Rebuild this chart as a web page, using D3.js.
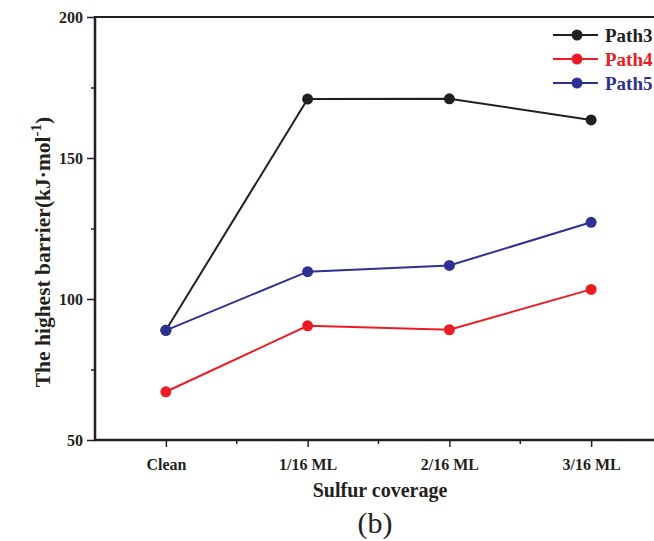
<!DOCTYPE html>
<html>
<head>
<meta charset="utf-8">
<script src="https://cdn.jsdelivr.net/npm/d3@7"></script>
<style>
  body { margin: 0; background: #fff; }
  svg { display: block; }
  text { font-family: "Liberation Serif", "Times New Roman", serif; }
</style>
</head>
<body>
<svg id="chart" width="654" height="541"></svg>
<script>
// Highest barrier (kJ/mol) vs. sulfur coverage
const categories = ["Clean", "1/16 ML", "2/16 ML", "3/16 ML"];
const path3 = [88.9, 170.9, 171.0, 163.5];
const path4 = [67.1, 90.5, 89.1, 103.4];
const path5 = [88.9, 109.7, 111.9, 127.2];
const seriesNames = ["Path3", "Path4", "Path5"];
const seriesColors = ["#231f20", "#ed1c24", "#2e3192"];
const yMajorTicks = [50, 100, 150, 200];
const yMinorTicks = [75, 125, 175];

const series = [path3, path4, path5].map((v, i) => ({ name: seriesNames[i], color: seriesColors[i], values: v }));

const svg = d3.select("#chart");
const plotLeft = 95, plotRight = 662, plotTop = 17, plotBottom = 440;
const ink = "#231f20";

const x = d3.scalePoint().domain(categories).range([plotLeft, plotRight]).padding(0.5);
const step = x.step();
const y = d3.scaleLinear().domain([50, 200]).range([plotBottom, plotTop]);

// frame: top border
svg.append("line").attr("x1", plotLeft).attr("x2", plotRight).attr("y1", plotTop).attr("y2", plotTop)
  .attr("stroke", ink).attr("stroke-width", 2);

// y axis
const yAxis = svg.append("g").attr("transform", `translate(${plotLeft},0)`)
  .call(d3.axisLeft(y).tickValues(yMajorTicks).tickSize(8).tickPadding(4));
yAxis.select(".domain").remove();
svg.append("g").attr("transform", `translate(${plotLeft},0)`)
  .call(d3.axisLeft(y).tickValues(yMinorTicks).tickSize(4).tickFormat(""))
  .select(".domain").remove();
svg.append("line").attr("x1", plotLeft).attr("x2", plotLeft).attr("y1", plotTop - 1).attr("y2", plotBottom + 1)
  .attr("stroke", ink).attr("stroke-width", 2.5);

// x axis
const xAxis = svg.append("g").attr("transform", `translate(0,${plotBottom})`)
  .call(d3.axisBottom(x).tickSize(7).tickPadding(12));
xAxis.select(".domain").remove();
const xMinor = categories.map(c => x(c) + step / 2);
svg.append("g").attr("transform", `translate(0,${plotBottom})`)
  .selectAll("line").data(xMinor).join("line")
  .attr("x1", d => d).attr("x2", d => d).attr("y1", 0).attr("y2", 4)
  .attr("stroke", ink).attr("stroke-width", 1.5);
svg.append("line").attr("x1", plotLeft - 1).attr("x2", plotRight).attr("y1", plotBottom).attr("y2", plotBottom)
  .attr("stroke", ink).attr("stroke-width", 2.5);

svg.selectAll(".tick line").attr("stroke", ink).attr("stroke-width", 1.5);
svg.selectAll(".tick text").attr("fill", ink)
  .style("font-family", "'Liberation Serif', serif").style("font-size", "16px").style("font-weight", "bold");

// series lines and markers
const line = d3.line().x((d, i) => x(categories[i])).y(d => y(d));
series.forEach(s => {
  svg.append("path").datum(s.values).attr("d", line)
    .attr("fill", "none").attr("stroke", s.color).attr("stroke-width", 2);
});
series.forEach(s => {
  svg.append("g").selectAll("circle").data(s.values).join("circle")
    .attr("cx", (d, i) => x(categories[i])).attr("cy", d => y(d)).attr("r", 5.5)
    .attr("fill", s.color);
});

// legend
const legend = svg.append("g");
series.forEach((s, i) => {
  const ly = 35 + i * 24;
  legend.append("line").attr("x1", 553).attr("x2", 598).attr("y1", ly).attr("y2", ly)
    .attr("stroke", s.color).attr("stroke-width", 2);
  legend.append("circle").attr("cx", 577).attr("cy", ly).attr("r", 5.5).attr("fill", s.color);
  legend.append("text").attr("x", 605).attr("y", ly + 6.5).text(s.name)
    .attr("fill", s.color).style("font-size", "19px").style("font-weight", "bold");
});

// axis titles
svg.append("text").attr("x", 380).attr("y", 497)
  .attr("text-anchor", "middle").style("font-size", "20px").style("font-weight", "bold")
  .attr("fill", ink).text("Sulfur coverage");

const yt = svg.append("text").attr("transform", "translate(50,252) rotate(-90)")
  .attr("text-anchor", "middle").style("font-size", "21.5px").style("font-weight", "bold")
  .attr("fill", ink);
yt.append("tspan").text("The highest barrier(kJ·mol");
yt.append("tspan").attr("dy", -9).style("font-size", "15px").text("-1");
yt.append("tspan").attr("dy", 9).text(")");

svg.append("text").attr("x", 375).attr("y", 533).attr("text-anchor", "middle")
  .style("font-size", "30px").attr("fill", ink).text("(b)");
</script>
</body>
</html>
